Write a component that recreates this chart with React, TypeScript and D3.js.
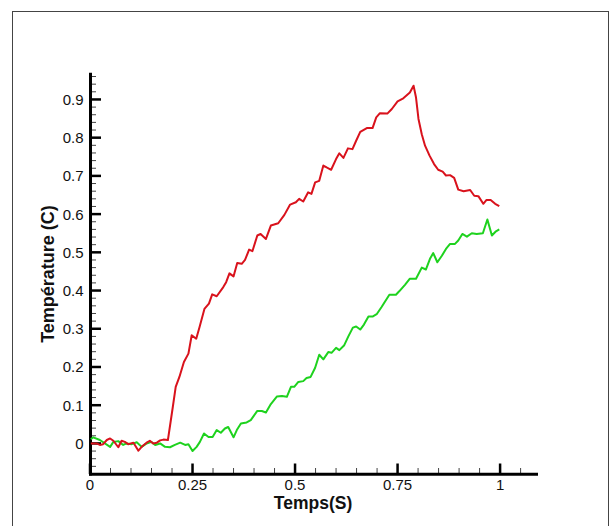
import React, { useEffect, useRef } from 'react';
import * as d3 from 'd3';

// red curve
const redTime = [
  0.002, 0.016, 0.024, 0.032, 0.041, 0.049, 0.057, 0.069, 0.077, 0.085,
  0.093, 0.106, 0.118, 0.126, 0.138, 0.146, 0.154, 0.163, 0.171, 0.179,
  0.19, 0.202, 0.209, 0.218, 0.229, 0.24, 0.248, 0.259, 0.267, 0.279,
  0.29, 0.298, 0.309, 0.325, 0.332, 0.34, 0.35, 0.359, 0.37, 0.378,
  0.388, 0.396, 0.408, 0.416, 0.429, 0.441, 0.459, 0.474, 0.488, 0.502,
  0.51, 0.52, 0.532, 0.54, 0.549, 0.559, 0.569, 0.577, 0.588, 0.6,
  0.608, 0.618, 0.629, 0.64, 0.649, 0.659, 0.675, 0.689, 0.698, 0.707,
  0.725, 0.736, 0.75, 0.764, 0.78, 0.789, 0.795, 0.801, 0.809, 0.817,
  0.828, 0.839, 0.849, 0.86, 0.868, 0.878, 0.888, 0.898, 0.911, 0.927,
  0.937, 0.947, 0.959, 0.967, 0.977, 0.988, 0.998,
];
const redTemp = [
  0, 0, -0.004, -0.002, 0.009, 0.013, 0.007, -0.01, 0.007, 0.004,
  -0.002, 0.002, -0.019, -0.009, 0.002, 0.007, 0, 0.002, 0.008, 0.01,
  0.009, 0.096, 0.148, 0.174, 0.213, 0.235, 0.283, 0.274, 0.304, 0.352,
  0.366, 0.39, 0.385, 0.409, 0.422, 0.445, 0.437, 0.472, 0.47, 0.48,
  0.507, 0.503, 0.544, 0.548, 0.535, 0.57, 0.576, 0.598, 0.625, 0.631,
  0.64, 0.633, 0.657, 0.653, 0.683, 0.687, 0.727, 0.722, 0.716, 0.744,
  0.759, 0.747, 0.772, 0.77, 0.792, 0.815, 0.825, 0.825, 0.853, 0.864,
  0.863, 0.875, 0.895, 0.903, 0.918, 0.936, 0.905, 0.849, 0.809, 0.779,
  0.753, 0.731, 0.716, 0.711, 0.701, 0.702, 0.695, 0.664, 0.66, 0.663,
  0.648, 0.647, 0.627, 0.637, 0.637, 0.627, 0.621,
];

// green curve
const greenTime = [
  0.002, 0.008, 0.024, 0.049, 0.057, 0.069, 0.081, 0.089, 0.102, 0.114,
  0.126, 0.138, 0.15, 0.159, 0.171, 0.183, 0.195, 0.207, 0.22, 0.232,
  0.24, 0.25, 0.26, 0.268, 0.278, 0.289, 0.299, 0.309, 0.319, 0.329,
  0.337, 0.35, 0.358, 0.368, 0.382, 0.392, 0.408, 0.419, 0.429, 0.441,
  0.456, 0.468, 0.48, 0.49, 0.498, 0.508, 0.52, 0.528, 0.538, 0.549,
  0.559, 0.569, 0.581, 0.589, 0.6, 0.608, 0.62, 0.63, 0.641, 0.649,
  0.659, 0.668, 0.679, 0.689, 0.699, 0.711, 0.73, 0.746, 0.754, 0.768,
  0.78, 0.795, 0.809, 0.819, 0.829, 0.837, 0.847, 0.858, 0.868, 0.878,
  0.89, 0.898, 0.908, 0.919, 0.931, 0.943, 0.958, 0.969, 0.98, 0.99,
  0.998,
];
const greenTemp = [
  0.011, 0.016, 0.009, -0.009, 0.004, 0.006, -0.004, 0, -0.002, 0.003,
  -0.009, 0, 0.004, -0.004, 0, -0.009, -0.01, -0.004, 0.002, -0.004,
  -0.002, -0.02, -0.009, 0.004, 0.026, 0.017, 0.017, 0.035, 0.028, 0.039,
  0.043, 0.016, 0.035, 0.052, 0.055, 0.061, 0.085, 0.085, 0.081, 0.103,
  0.123, 0.124, 0.122, 0.148, 0.148, 0.161, 0.163, 0.171, 0.174, 0.198,
  0.232, 0.22, 0.239, 0.237, 0.25, 0.244, 0.257, 0.28, 0.303, 0.306,
  0.298, 0.311, 0.332, 0.332, 0.338, 0.357, 0.389, 0.389, 0.398, 0.415,
  0.431, 0.431, 0.46, 0.455, 0.483, 0.498, 0.474, 0.491, 0.509, 0.522,
  0.522, 0.531, 0.548, 0.541, 0.55, 0.548, 0.55, 0.586, 0.544, 0.555,
  0.56,
];

const xTicks = [0, 0.25, 0.5, 0.75, 1];
const xTickLabels = ['0', '0.25', '0.5', '0.75', '1'];
const yTicks = [0, 0.1, 0.2, 0.3, 0.4, 0.5, 0.6, 0.7, 0.8, 0.9];
const yTickLabels = ['0', '0.1', '0.2', '0.3', '0.4', '0.5', '0.6', '0.7', '0.8', '0.9'];

const Chart = () => {
  const ref = useRef<SVGSVGElement>(null);

  useEffect(() => {
    const svg = d3.select(ref.current);
    svg.selectAll('*').remove();

    const width = 614, height = 526;
    svg.attr('width', width).attr('height', height);

    const x = d3.scaleLinear().domain([0, 1.09]).range([90, 537]);
    const y = d3.scaleLinear().domain([-0.08, 0.97]).range([474, 72.7]);

    svg.append('rect').attr('width', width).attr('height', height).attr('fill', '#fff');

    // outer frame
    svg.append('rect')
      .attr('x', 12.5).attr('y', 11.5)
      .attr('width', 596).attr('height', 540)
      .attr('fill', 'none')
      .attr('stroke', '#444')
      .attr('stroke-width', 1);

    const font = 'Arial, "Liberation Sans", sans-serif';

    // minor ticks
    const xMinor = d3.range(1, 22).map(i => i * 0.05).filter(v => Math.abs(v * 4 - Math.round(v * 4)) > 1e-6);
    xMinor.forEach(v => {
      svg.append('line')
        .attr('x1', x(v)).attr('x2', x(v))
        .attr('y1', 474).attr('y2', 468)
        .attr('stroke', '#444').attr('stroke-width', 1);
    });
    const yMinor = d3.range(-4, 49).map(i => i * 0.02).filter(v => Math.abs(v * 10 - Math.round(v * 10)) > 1e-6 || v < 0);
    yMinor.forEach(v => {
      svg.append('line')
        .attr('x1', 90).attr('x2', 96)
        .attr('y1', y(v)).attr('y2', y(v))
        .attr('stroke', '#444').attr('stroke-width', 1);
    });

    // major ticks + labels
    xTicks.forEach((v, i) => {
      svg.append('line')
        .attr('x1', x(v)).attr('x2', x(v))
        .attr('y1', 474).attr('y2', 463.5)
        .attr('stroke', '#000').attr('stroke-width', 2.5);
      svg.append('text')
        .attr('x', x(v)).attr('y', 489.8)
        .attr('text-anchor', 'middle')
        .attr('font-family', font).attr('font-size', 15)
        .attr('fill', '#111')
        .text(xTickLabels[i]);
    });
    yTicks.forEach((v, i) => {
      svg.append('line')
        .attr('x1', 90).attr('x2', 101)
        .attr('y1', y(v)).attr('y2', y(v))
        .attr('stroke', '#000').attr('stroke-width', 2.5);
      svg.append('text')
        .attr('x', 83.5).attr('y', y(v))
        .attr('dy', '0.36em')
        .attr('text-anchor', 'end')
        .attr('font-family', font).attr('font-size', 15)
        .attr('fill', '#111')
        .text(yTickLabels[i]);
    });

    // axis lines
    svg.append('line')
      .attr('x1', 90.5).attr('x2', 90.5)
      .attr('y1', 72.7).attr('y2', 475.5)
      .attr('stroke', '#000').attr('stroke-width', 3);
    svg.append('line')
      .attr('x1', 89).attr('x2', 538)
      .attr('y1', 474.2).attr('y2', 474.2)
      .attr('stroke', '#000').attr('stroke-width', 3);

    // axis titles
    svg.append('text')
      .attr('x', 313).attr('y', 509)
      .attr('text-anchor', 'middle')
      .attr('font-family', font).attr('font-size', 17.5).attr('font-weight', 'bold')
      .attr('fill', '#111')
      .text('Temps(S)');
    svg.append('text')
      .attr('transform', 'translate(53.5,274) rotate(-90)')
      .attr('text-anchor', 'middle')
      .attr('font-family', font).attr('font-size', 18).attr('font-weight', 'bold')
      .attr('fill', '#111')
      .text('Température (C)');

    const line = d3.line<[number, number]>()
      .x(d => x(d[0]))
      .y(d => y(d[1]));

    const green = greenTime.map((t, i) => [t, greenTemp[i]] as [number, number]);
    const red = redTime.map((t, i) => [t, redTemp[i]] as [number, number]);

    svg.append('path')
      .datum(green)
      .attr('d', line)
      .attr('fill', 'none')
      .attr('stroke', '#1ed21e')
      .attr('stroke-width', 2)
      .attr('stroke-linejoin', 'round');

    svg.append('path')
      .datum(red)
      .attr('d', line)
      .attr('fill', 'none')
      .attr('stroke', '#d9121c')
      .attr('stroke-width', 2)
      .attr('stroke-linejoin', 'round');
  }, []);

  return <svg ref={ref} style={{ position: 'absolute', left: 0, top: 0 }}></svg>;
};

export default function App() {
  return <Chart />;
}
